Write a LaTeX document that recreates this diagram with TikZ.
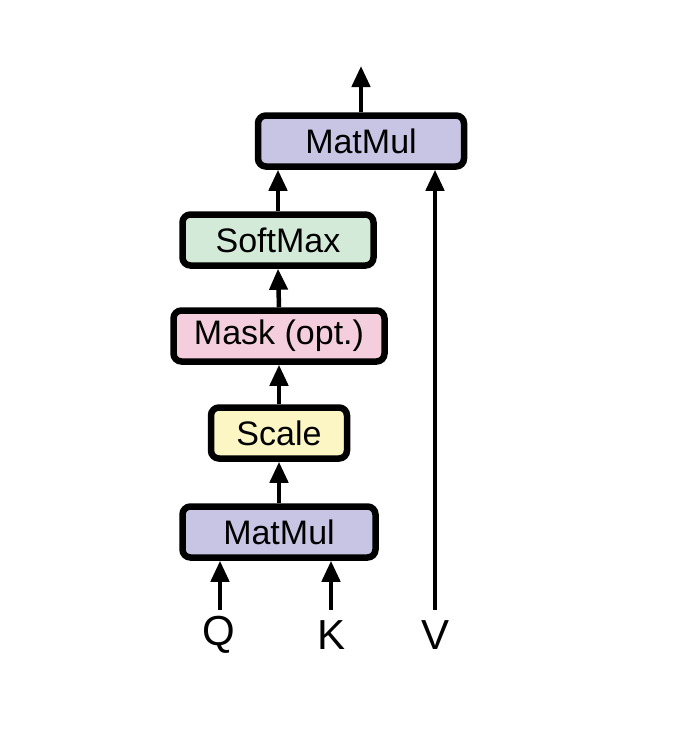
\documentclass[tikz,border=0pt]{standalone}
\usepackage{fontspec}
\setmainfont{Liberation Sans}
\usetikzlibrary{arrows.meta,positioning}
\definecolor{mulfill}{RGB}{200,196,228}
\definecolor{softfill}{RGB}{211,234,217}
\definecolor{maskfill}{RGB}{245,206,221}
\definecolor{scalefill}{RGB}{251,246,196}

\begin{document}
\begin{tikzpicture}[x=1pt,y=-1pt,
  blk/.style={draw,line width=6.5pt,rounded corners=8pt,minimum height=51pt,inner sep=0pt,
    font=\fontsize{34}{40}\selectfont},
  arr/.style={-{Triangle[width=18pt,length=21pt]},line width=4.5pt},
  lab/.style={font=\fontsize{42}{48}\selectfont}]
  \useasboundingbox (0,0) rectangle (676,744);
  % blocks, bottom to top
  \node[blk,fill=mulfill,minimum width=193pt] (mm1) at (279,532) {MatMul};
  \node[blk,fill=scalefill,minimum width=136pt] (scale) at (279,433) {Scale};
  \node[blk,fill=maskfill,minimum width=211pt] (mask) at (279,336) {Mask (opt.)};
  \node[blk,fill=softfill,minimum width=191pt] (soft) at (278,240) {SoftMax};
  \node[blk,fill=mulfill,minimum width=206pt] (mm2) at (361,141) {MatMul};
  % inputs
  \node[lab] (Q) at (219,635) {Q};
  \node[lab] (K) at (332,635) {K};
  \node[lab] (V) at (436,635) {V};
  \coordinate (qin) at (220,610);
  \coordinate (kin) at (331,610);
  \coordinate (vin) at (435,610);
  \coordinate (out) at (361,66);
  % connectors
  \draw[arr] (qin) -- (qin |- mm1.south);
  \draw[arr] (kin) -- (kin |- mm1.south);
  \draw[arr] (vin) -- (vin |- mm2.south);
  \foreach \a/\b in {mm1/scale,scale/mask,mask/soft}
    \draw[arr] (\a.north) -- (\b.south);
  \draw[arr] (soft.north) -- (soft.north |- mm2.south);
  \draw[arr] (mm2.north) -- (out);
\end{tikzpicture}
\end{document}
